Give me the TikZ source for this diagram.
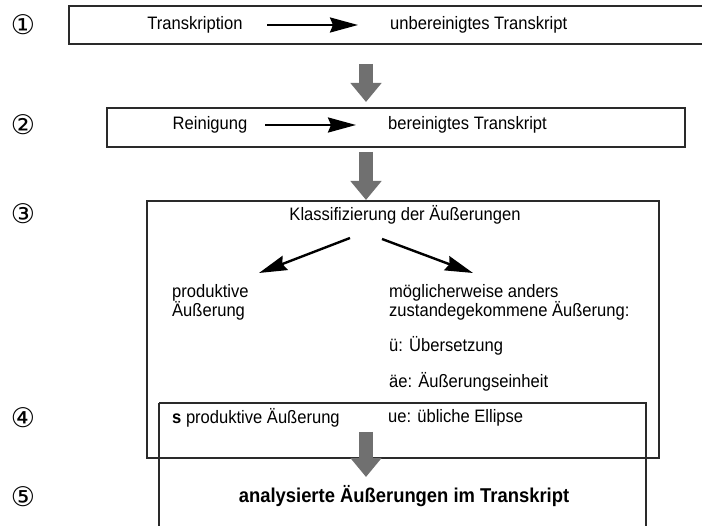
\documentclass[tikz,border=0pt]{standalone}
\usepackage{fontspec}
\usepackage{graphicx}
\setmainfont{Liberation Sans}
\newfontfamily\circfont{DejaVu Sans}
\usetikzlibrary{arrows.meta}
\definecolor{arrowgrey}{HTML}{707070}
\definecolor{boxline}{HTML}{2A2A2A}
\newcommand{\nt}[1]{\scalebox{0.92}[1]{#1}}
\begin{document}
\begin{tikzpicture}[x=1pt,y=-1pt,
  box/.style={draw=boxline, line width=2pt},
  txt/.style={inner sep=0pt, anchor=west, font=\fontsize{18}{18}\selectfont},
  ctxt/.style={inner sep=0pt, font=\fontsize{18}{18}\selectfont},
  btxt/.style={inner sep=0pt, font=\fontsize{20}{20}\selectfont\bfseries},
  num/.style={inner sep=0pt, font=\circfont\fontsize{27}{27}\selectfont},
  blackarrow/.style={line width=2.4pt, -{Stealth[length=28pt,width=15pt,inset=3pt]}},
  greyarrow/.style={draw=arrowgrey, line width=14pt, line cap=butt,
    -{Triangle[length=19pt,width=30pt]}, arrowgrey}
]
\useasboundingbox (0,0) rectangle (702,526);
\fill[white] (0,0) rectangle (702,526);

% boxes
\draw[box] (69,6) rectangle (710,44);
\draw[box] (107,108) rectangle (685,147);
\draw[box] (147,201) rectangle (659,458);
\draw[box] (159,403) -- (646,403) -- (646,535);
\draw[box] (159,403) -- (159,535);

% step numbers
\node[num] (n1) at (23,25) {①};
\node[num] (n2) at (23,125) {②};
\node[num] (n3) at (23,214) {③};
\node[num] (n4) at (23,418) {④};
\node[num] (n5) at (23,497) {⑤};

% step 1
\node[ctxt] (t1) at (195,25) {\nt{Transkription}};
\node[txt] (u1) at (390,25) {\nt{unbereinigtes Transkript}};
\coordinate (a1s) at (267,25);
\coordinate (a1e) at (358,25);
\draw[blackarrow] (a1s) -- (a1e);

% grey arrow 1
\coordinate (g1s) at (366,64);
\coordinate (g1e) at (366,102);
\draw[greyarrow] (g1s) -- (g1e);

% step 2
\node[ctxt] (t2) at (210,125) {\nt{Reinigung}};
\node[txt] (u2) at (388,125) {\nt{bereinigtes Transkript}};
\coordinate (a2s) at (265,125);
\coordinate (a2e) at (356,125);
\draw[blackarrow] (a2s) -- (a2e);

% grey arrow 2
\coordinate (g2s) at (366,152);
\coordinate (g2e) at (366,200);
\draw[greyarrow] (g2s) -- (g2e);

% step 3
\node[ctxt] (k) at (405,215) {\nt{Klassifizierung der Äußerungen}};
\coordinate (d1s) at (350,238);
\coordinate (d1e) at (259,273);
\coordinate (d2s) at (382,239);
\coordinate (d2e) at (473,273);
\draw[blackarrow] (d1s) -- (d1e);
\draw[blackarrow] (d2s) -- (d2e);

\node[txt] (p1) at (172,293) {\nt{produktive}};
\node[txt] (p2) at (172,311) {\nt{Äußerung}};
\node[txt] (m1) at (389,293) {\nt{möglicherweise anders}};
\node[txt] (m2) at (389,311) {\nt{zustandegekommene Äußerung:}};
\node[txt] (ue) at (389,346) {\nt{ü: Übersetzung}};
\node[txt] (ae) at (389,382) {\nt{äe: Äußerungseinheit}};

% step 4
\node[txt] (s4) at (172,418) {\nt{\textbf{s} produktive Äußerung}};
\node[txt] (e4) at (388,418) {\nt{ue: übliche Ellipse}};

% grey arrow 3
\coordinate (g3s) at (366,432);
\coordinate (g3e) at (366,477);
\draw[greyarrow] (g3s) -- (g3e);

% step 5
\node[btxt] (r5) at (404,496) {\nt{analysierte Äußerungen im Transkript}};
\end{tikzpicture}
\end{document}
